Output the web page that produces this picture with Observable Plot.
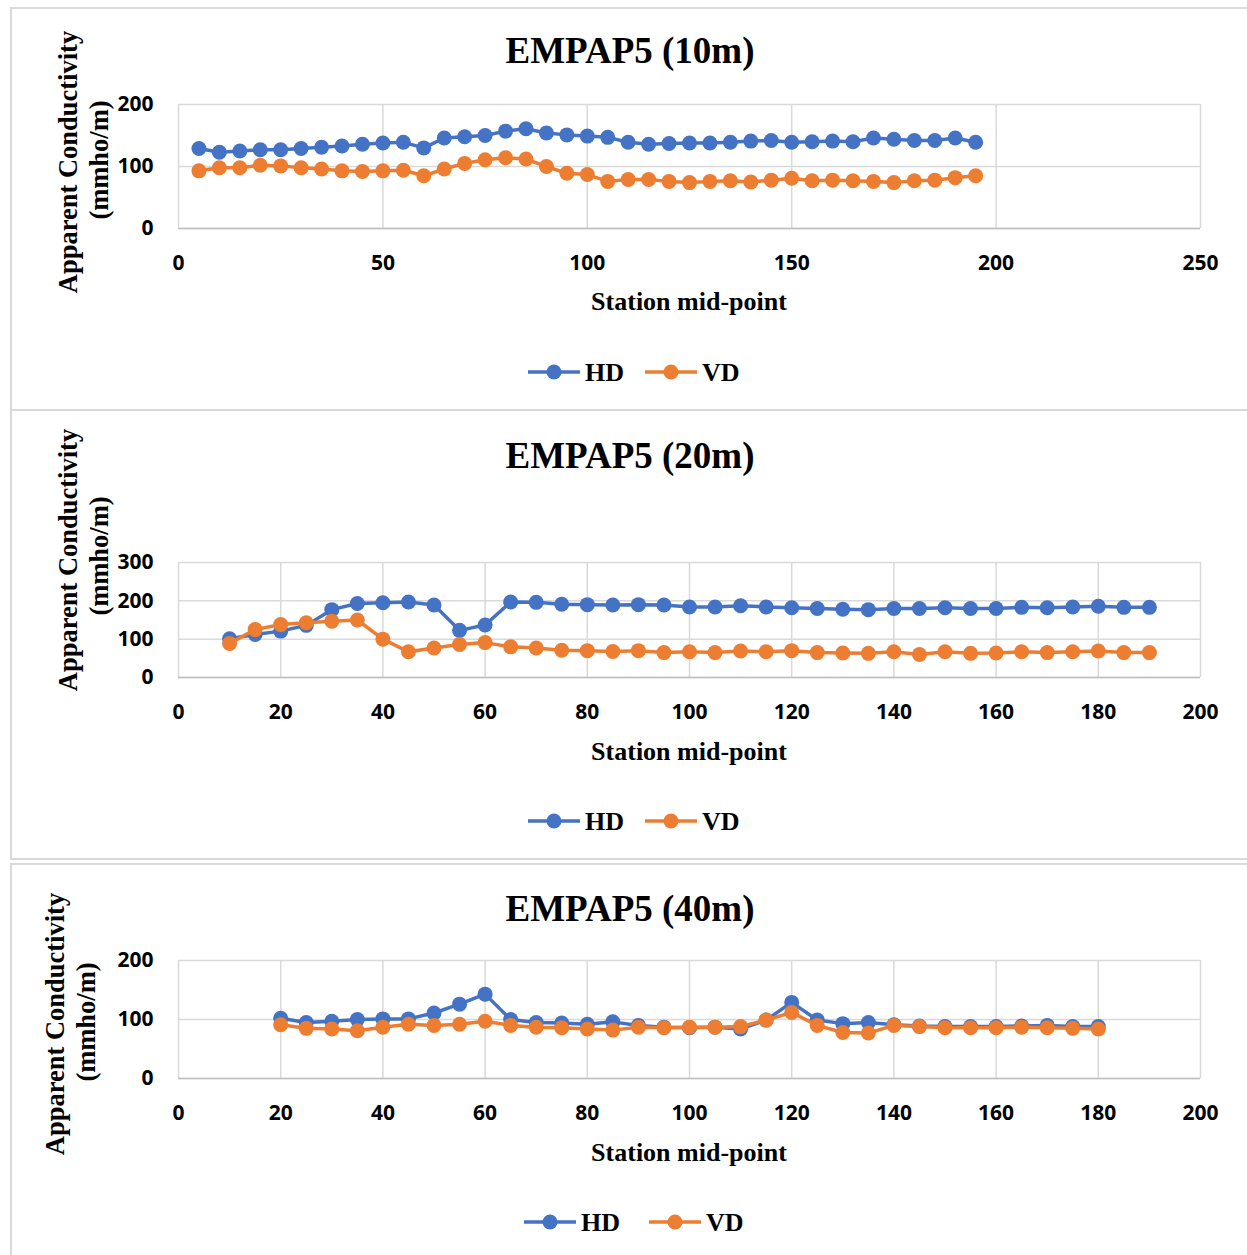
<!DOCTYPE html>
<html>
<head>
<meta charset="utf-8">
<script src="https://cdn.jsdelivr.net/npm/d3@7"></script>
<script src="https://cdn.jsdelivr.net/npm/@observablehq/plot@0.6"></script>
<style>
  html, body { margin: 0; padding: 0; background: #fff; }
  #page { position: relative; width: 1247px; height: 1255px; overflow: hidden; background: #fff; }
  .panel { position: absolute; left: 10px; width: 1270px; border: 2px solid #d9d9d9; box-sizing: border-box; }
  .title { position: absolute; transform: translate(-50%, -50%); font: bold 37px "Liberation Serif", "Times New Roman", serif; line-height: 1; white-space: nowrap; color: #000; }
  .xlabel { position: absolute; transform: translate(-50%, -50%); font: bold 26px "Liberation Serif", "Times New Roman", serif; line-height: 1; white-space: nowrap; color: #000; }
  .ylabel { position: absolute; transform: translate(-50%, -50%) rotate(-90deg); font: bold 26.5px "Liberation Serif", "Times New Roman", serif; line-height: 1; white-space: nowrap; color: #000; }
  .chart, .legend { position: absolute; left: 0; }
</style>
</head>
<body>
<div id="page"></div>
<script>
// Series names and colours
const seriesNames = ["HD", "VD"];
const seriesColors = ["#4472C4", "#ED7D31"];

// EMPAP5 (10m)
const stations10 = [5, 10, 15, 20, 25, 30, 35, 40, 45, 50, 55, 60, 65, 70, 75, 80, 85, 90, 95, 100,
  105, 110, 115, 120, 125, 130, 135, 140, 145, 150, 155, 160, 165, 170, 175, 180, 185, 190, 195];
const hd10 = [129, 123, 125, 127, 127, 129, 131, 133, 136, 138, 139, 130, 146, 148, 150, 157, 161, 154, 151, 149,
  147, 139, 136, 137, 138, 138, 139, 141, 142, 139, 140, 141, 140, 146, 144, 142, 142, 146, 139];
const vd10 = [93, 98, 98, 102, 101, 98, 96, 93, 92, 93, 94, 85, 96, 105, 111, 114, 112, 100, 89, 87,
  76, 79, 79, 76, 74, 76, 77, 75, 78, 81, 77, 78, 77, 76, 74, 77, 78, 82, 85];
const xTicks10 = [0, 50, 100, 150, 200, 250];
const yTicks10 = [0, 100, 200];

// EMPAP5 (20m)
const stations20 = [10, 15, 20, 25, 30, 35, 40, 45, 50, 55, 60, 65, 70, 75, 80, 85, 90, 95, 100,
  105, 110, 115, 120, 125, 130, 135, 140, 145, 150, 155, 160, 165, 170, 175, 180, 185, 190];
const hd20 = [101, 112, 121, 136, 177, 193, 195, 197, 189, 123, 137, 197, 196, 191, 190, 189, 190, 189, 184,
  184, 187, 184, 182, 180, 178, 177, 180, 180, 182, 180, 180, 183, 182, 184, 186, 183, 183];
const vd20 = [89, 125, 138, 143, 147, 150, 100, 67, 77, 86, 91, 80, 77, 71, 70, 68, 70, 65, 67,
  65, 69, 67, 70, 65, 64, 63, 67, 60, 67, 63, 64, 67, 65, 67, 69, 65, 65];
const xTicks20 = [0, 20, 40, 60, 80, 100, 120, 140, 160, 180, 200];
const yTicks20 = [0, 100, 200, 300];

// EMPAP5 (40m)
const stations40 = [20, 25, 30, 35, 40, 45, 50, 55, 60, 65, 70, 75, 80, 85, 90, 95, 100,
  105, 110, 115, 120, 125, 130, 135, 140, 145, 150, 155, 160, 165, 170, 175, 180];
const hd40 = [102, 95, 97, 100, 101, 101, 111, 126, 143, 100, 95, 94, 92, 96, 90, 87, 86,
  87, 84, 99, 129, 99, 93, 95, 91, 89, 88, 88, 88, 89, 90, 88, 88];
const vd40 = [91, 85, 84, 81, 87, 92, 90, 92, 97, 90, 87, 86, 84, 82, 87, 86, 87,
  87, 88, 99, 112, 90, 78, 77, 90, 88, 86, 86, 86, 87, 86, 85, 84];
const xTicks40 = [0, 20, 40, 60, 80, 100, 120, 140, 160, 180, 200];
const yTicks40 = [0, 100, 200];

// Layout of the three stacked charts (page pixels)
const panels = [
  { title: "EMPAP5 (10m)", stations: stations10, values: [hd10, vd10], xTicks: xTicks10, yTicks: yTicks10,
    box: [7, 404], titleY: 50, frame: [104, 228], xLabelY: 302, yLabelX: [68, 99], yLabelY: [162, 160],
    legendY: 372, legendX: [528, 645] },
  { title: "EMPAP5 (20m)", stations: stations20, values: [hd20, vd20], xTicks: xTicks20, yTicks: yTicks20,
    box: [409, 451], titleY: 455, frame: [562, 677], xLabelY: 752, yLabelX: [68, 99], yLabelY: [560, 556],
    legendY: 821, legendX: [528, 645] },
  { title: "EMPAP5 (40m)", stations: stations40, values: [hd40, vd40], xTicks: xTicks40, yTicks: yTicks40,
    box: [863, 420], titleY: 908, frame: [960, 1078], xLabelY: 1153, yLabelX: [55, 86], yLabelY: [1024, 1022],
    legendY: 1222, legendX: [524, 649] }
];

const page = document.getElementById("page");
const frameLeft = 178, frameRight = 1200, pageWidth = 1247;
const marginTop = 20, marginBottom = 60;

function addDiv(cls, text, x, y) {
  const d = document.createElement("div");
  d.className = cls;
  d.textContent = text;
  d.style.left = x + "px";
  d.style.top = y + "px";
  page.appendChild(d);
  return d;
}

panels.forEach(p => {
  const box = document.createElement("div");
  box.className = "panel";
  box.style.top = p.box[0] + "px";
  box.style.height = p.box[1] + "px";
  page.appendChild(box);

  addDiv("title", p.title, 630, p.titleY);
  addDiv("ylabel", "Apparent Conductivity", p.yLabelX[0], p.yLabelY[0]);
  addDiv("ylabel", "(mmho/m)", p.yLabelX[1], p.yLabelY[1]);
  addDiv("xlabel", "Station mid-point", (frameLeft + frameRight) / 2, p.xLabelY);

  const frameH = p.frame[1] - p.frame[0];
  const xDomain = [p.xTicks[0], p.xTicks[p.xTicks.length - 1]];
  const yDomain = [p.yTicks[0], p.yTicks[p.yTicks.length - 1]];
  const grid = { stroke: "#d9d9d9", strokeOpacity: 1, strokeWidth: 1.5 };
  const tickText = { fontSize: 21, fontWeight: "bold", fontFamily: "'Open Sans', 'Liberation Sans', sans-serif", fill: "#000" };

  const marks = [
    Plot.gridX(p.xTicks, grid),
    Plot.gridY(p.yTicks, grid),
    Plot.ruleY([0], { stroke: "#bfbfbf", strokeWidth: 1.5 }),
    Plot.axisX(p.xTicks, { tickSize: 0, tickPadding: 27, label: null, ...tickText }),
    Plot.axisY(p.yTicks, { tickSize: 0, tickPadding: 25, label: null, ...tickText })
  ];
  // HD drawn first, VD on top of it
  seriesNames.forEach((name, i) => {
    const rows = p.stations.map((s, j) => ({ station: s, value: p.values[i][j] }));
    marks.push(Plot.line(rows, { x: "station", y: "value", stroke: seriesColors[i], strokeWidth: 3.5 }));
    marks.push(Plot.dot(rows, { x: "station", y: "value", r: 7.5, fill: seriesColors[i] }));
  });

  const svg = Plot.plot({
    width: pageWidth,
    height: frameH + marginTop + marginBottom,
    marginLeft: frameLeft,
    marginRight: pageWidth - frameRight,
    marginTop,
    marginBottom,
    x: { domain: xDomain },
    y: { domain: yDomain },
    style: { background: "transparent", color: "#000", overflow: "visible" },
    marks
  });
  svg.classList.add("chart");
  svg.style.top = (p.frame[0] - marginTop) + "px";
  svg.style.maxWidth = "none";
  page.appendChild(svg);

  // Legend row below the chart
  const lg = d3.create("svg")
    .attr("class", "legend")
    .attr("width", pageWidth)
    .attr("height", 40)
    .style("top", (p.legendY - 20) + "px");
  seriesNames.forEach((name, i) => {
    const x0 = p.legendX[i];
    lg.append("line").attr("x1", x0).attr("x2", x0 + 52).attr("y1", 20).attr("y2", 20)
      .attr("stroke", seriesColors[i]).attr("stroke-width", 3.5);
    lg.append("circle").attr("cx", x0 + 26).attr("cy", 20).attr("r", 7.5).attr("fill", seriesColors[i]);
    lg.append("text").attr("x", x0 + 57).attr("y", 20).attr("dy", "0.34em")
      .attr("font-family", "'Liberation Serif', 'Times New Roman', serif")
      .attr("font-weight", "bold").attr("font-size", 26).attr("fill", "#000")
      .text(name);
  });
  page.appendChild(lg.node());
});
</script>
</body>
</html>
